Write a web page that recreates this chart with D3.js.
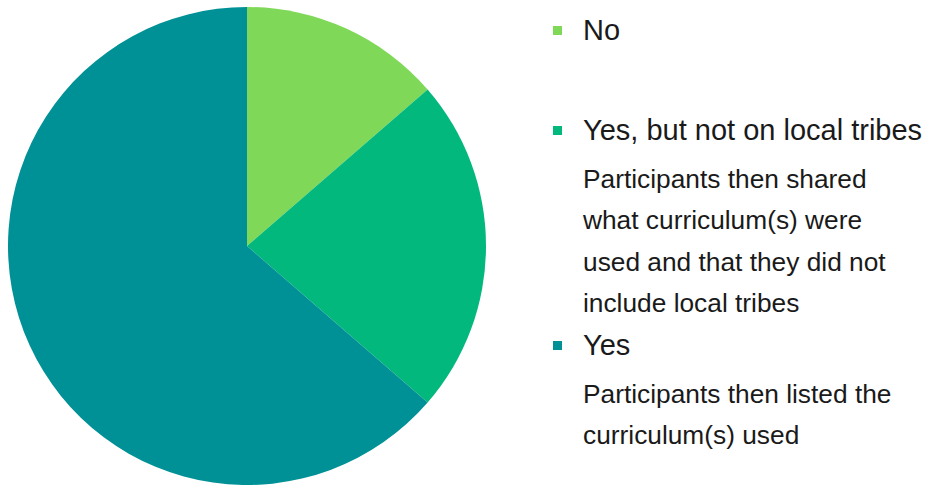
<!DOCTYPE html>
<html>
<head>
<meta charset="utf-8">
<script src="https://cdn.jsdelivr.net/npm/d3@7"></script>
<style>
  html, body { margin: 0; padding: 0; background: #ffffff; }
  svg { display: block; }
</style>
</head>
<body>
<svg id="chart" width="929" height="485"></svg>
<script>
// Responses to: did the curriculum cover local tribes?
const categories = ["No", "Yes, but not on local tribes", "Yes"];
const counts = [3, 5, 14];
const colors = ["#7fd858", "#03b87c", "#009196"];
const notes = [
  [],
  ["Participants then shared", "what curriculum(s) were", "used and that they did not", "include local tribes"],
  ["Participants then listed the", "curriculum(s) used"]
];

const data = categories.map((c, i) => ({ category: c, value: counts[i], color: colors[i], note: notes[i] }));

const svg = d3.select("#chart");
const font = "Liberation Sans";
const textColor = "#1a1a1a";

// Pie
const cx = 247, cy = 246, radius = 239;
const pie = d3.pie().sort(null).value(d => d.value).startAngle(0).endAngle(2 * Math.PI);
const arc = d3.arc().innerRadius(0).outerRadius(radius);

svg.append("g")
  .attr("transform", `translate(${cx},${cy})`)
  .selectAll("path")
  .data(pie(data))
  .join("path")
  .attr("d", arc)
  .attr("fill", d => d.data.color);

// Legend with explanatory notes
const legendX = 553, textX = 583;
const headerBaselines = [40, 140, 355];
const noteGap = 48, noteLine = 41.3;

const legend = svg.append("g");
data.forEach((d, i) => {
  const base = headerBaselines[i];
  legend.append("rect")
    .attr("x", legendX).attr("y", base - 14)
    .attr("width", 9).attr("height", 9)
    .attr("fill", d.color);
  legend.append("text")
    .attr("x", textX).attr("y", base)
    .attr("font-family", font)
    .attr("font-size", 29)
    .attr("fill", textColor)
    .text(d.category);
  d.note.forEach((line, j) => {
    legend.append("text")
      .attr("x", textX).attr("y", base + noteGap + j * noteLine)
      .attr("font-family", font)
      .attr("font-size", 26.3)
      .attr("fill", textColor)
      .text(line);
  });
});
</script>
</body>
</html>
